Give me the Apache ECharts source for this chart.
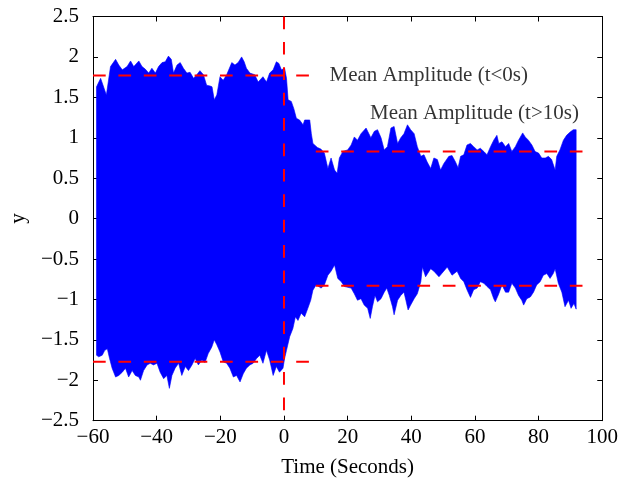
<!DOCTYPE html>
<html>
<head>
<meta charset="utf-8">
<script src="https://cdn.jsdelivr.net/npm/echarts@6/dist/echarts.min.js"></script>
<style>html,body{margin:0;padding:0;background:#fff}#c{width:621px;height:486px}</style>
</head>
<body>
<div id="c"></div>
<script>
// Upper envelope of the oscillating signal (time, value)
const upperT = [-58.9,-57.6,-55.8,-54.5,-52.9,-51.9,-50.8,-49.3,-48.2,-47.2,-45.6,-44.6,-43.6,-42.5,-41.5,-40.4,-39.4,-38.3,-37.3,-36.3,-35.4,-34.7,-33.6,-32.6,-31.6,-30.5,-29.5,-28.4,-27.4,-26.4,-25.3,-24.3,-23.2,-22.6,-21.9,-21.1,-20.1,-19.1,-18.0,-16.4,-15.4,-14.4,-13.3,-12.5,-11.8,-10.7,-9.2,-8.1,-6.6,-5.5,-4.5,-3.4,-2.4,-1.6,-0.8,0.2,0.8,1.3,2.3,3.1,3.9,4.9,6.0,6.5,8.1,8.6,9.1,10.5,11.6,12.7,13.8,14.8,15.9,16.7,17.4,18.5,20.0,21.1,22.1,23.1,24.2,25.8,26.3,27.3,28.4,29.4,30.5,31.5,32.5,33.6,34.6,35.7,36.7,37.7,38.8,39.8,40.9,41.9,43.0,44.0,45.0,46.1,47.1,48.2,49.2,50.2,51.8,52.8,53.9,54.7,55.5,56.5,57.5,58.6,59.6,60.7,61.7,62.8,63.8,64.9,65.9,66.9,67.5,68.5,69.6,70.6,71.6,72.7,73.7,75.0,75.8,76.8,77.9,78.9,80.0,81.0,82.1,83.1,84.1,85.2,85.7,86.7,87.8,88.8,89.9,90.9,91.8];
const upperY = [1.63,1.735,1.53,1.88,1.97,1.90,1.84,1.88,1.95,1.88,1.95,1.88,1.85,1.80,1.86,1.80,1.88,1.93,1.94,2.01,1.97,1.80,1.90,1.93,1.86,1.80,1.81,1.735,1.78,1.83,1.78,1.65,1.64,1.63,1.47,1.53,1.755,1.71,1.78,1.93,1.90,1.93,2.00,1.94,1.86,1.80,1.78,1.69,1.755,1.69,1.80,1.84,1.94,1.92,1.84,1.86,1.735,1.47,1.45,1.36,1.24,1.22,1.16,1.22,1.22,1.05,0.93,0.88,0.86,0.81,0.62,0.75,0.60,0.56,0.75,0.83,0.85,0.91,1.01,0.97,1.05,1.12,1.08,1.00,1.08,1.10,1.00,0.85,0.89,1.12,1.14,0.93,1.00,1.05,1.16,1.10,1.05,0.89,0.77,0.79,0.70,0.62,0.75,0.73,0.60,0.68,0.77,0.78,0.70,0.63,0.77,0.79,0.91,0.93,0.89,0.85,0.87,0.83,0.79,0.89,0.97,1.03,0.93,0.95,0.89,0.93,0.83,0.89,0.97,1.06,1.01,0.97,0.91,0.83,0.81,0.75,0.75,0.77,0.73,0.60,0.77,0.85,0.97,1.03,1.07,1.10,1.10];
// Lower envelope of the oscillating signal (time, value)
const lowerT = [-58.9,-58.2,-57.1,-56.3,-55.5,-54.8,-54.0,-52.9,-51.9,-50.8,-49.8,-48.8,-47.7,-46.7,-45.6,-45.1,-44.1,-43.0,-42.0,-41.0,-39.9,-38.9,-37.8,-36.8,-36.0,-35.2,-34.2,-33.1,-32.1,-31.0,-30.0,-28.9,-27.9,-26.9,-25.8,-24.8,-23.8,-22.7,-21.9,-21.1,-20.1,-19.1,-18.0,-17.0,-15.9,-14.9,-13.8,-12.8,-11.8,-10.7,-9.7,-8.6,-7.6,-6.6,-5.5,-4.5,-3.4,-2.4,-1.4,-0.3,0.2,0.8,1.8,2.8,3.6,4.4,5.4,6.5,7.5,8.4,9.1,10.1,11.7,12.7,13.8,14.8,15.9,16.9,18.0,19.0,21.1,22.1,23.1,24.2,25.2,26.3,27.1,27.8,28.6,29.4,30.5,31.5,32.3,33.1,34.1,34.6,35.7,36.7,37.7,38.3,39.0,39.8,40.9,41.9,43.0,43.5,44.5,46.1,47.1,48.7,50.2,51.3,52.8,54.4,55.5,56.5,57.5,58.6,59.6,60.7,61.7,62.8,63.8,64.9,65.9,66.4,67.5,68.5,69.6,70.6,71.6,72.7,73.7,74.7,75.3,76.3,77.4,78.4,79.4,80.5,81.5,82.6,83.6,84.6,85.2,86.2,87.3,88.3,89.4,90.2,91.1,91.8];
const lowerY = [-1.69,-1.71,-1.69,-1.63,-1.61,-1.73,-1.85,-1.96,-1.94,-1.90,-1.85,-1.96,-1.88,-1.94,-1.96,-2.00,-1.88,-1.81,-1.79,-1.81,-1.79,-1.90,-1.98,-1.94,-2.10,-1.94,-1.85,-1.79,-1.94,-1.83,-1.88,-1.81,-1.73,-1.81,-1.75,-1.78,-1.67,-1.59,-1.50,-1.56,-1.65,-1.77,-1.79,-1.85,-1.96,-1.94,-2.02,-1.92,-1.85,-1.81,-1.79,-1.73,-1.69,-1.79,-1.63,-1.75,-1.94,-1.83,-1.90,-1.85,-1.73,-1.63,-1.46,-1.36,-1.215,-1.26,-1.17,-1.215,-1.11,-1.01,-0.885,-0.82,-0.86,-0.82,-0.70,-0.65,-0.575,-0.74,-0.78,-0.84,-0.86,-0.93,-1.01,-0.99,-1.07,-1.11,-1.235,-1.09,-0.95,-1.03,-0.99,-0.91,-0.86,-0.95,-1.09,-1.19,-1.01,-0.95,-0.91,-1.01,-1.13,-1.07,-0.99,-0.93,-0.78,-0.60,-0.72,-0.62,-0.65,-0.72,-0.65,-0.60,-0.70,-0.65,-0.74,-0.78,-0.88,-0.975,-0.88,-0.86,-0.78,-0.80,-0.84,-0.88,-0.99,-1.03,-0.93,-0.82,-0.91,-0.91,-0.80,-0.86,-0.95,-1.01,-1.07,-0.99,-0.97,-0.91,-0.82,-0.78,-0.70,-0.68,-0.74,-0.68,-0.62,-0.80,-0.91,-1.09,-1.01,-1.11,-1.05,-1.12];

// Mean amplitude reference lines
const meanBefore = 1.77;
const meanAfter = 0.83;
const meanBeforeRange = [-60, 10];
const meanAfterRange = [10, 95];
const eventTime = 0;

// Axes
const xRange = [-60, 100], xStep = 20;
const yRange = [-2.5, 2.5], yStep = 0.5;

// Annotations
const labelBefore = 'Mean Amplitude (t<0s)';
const labelAfter = 'Mean Amplitude (t>10s)';
const labelBeforePos = [14.3, 1.77];
const labelAfterPos = [27.0, 1.30];

const FONT = 'Liberation Serif';
const fmt = v => String(v).replace('-', '\u2212');
const red = '#ff0000';
const dash = [12.7, 12.7];

const chart = echarts.init(document.getElementById('c'), null, {renderer: 'canvas'});

const axisCommon = {
  type: 'value',
  axisLine: {show: true, onZero: false, lineStyle: {color: '#000', width: 1}},
  axisTick: {show: true, inside: true, length: 5, lineStyle: {color: '#000', width: 1}},
  splitLine: {show: false}
};

function redLine(pts) {
  return {
    type: 'line', data: pts, symbol: 'none', silent: true, z: 5,
    lineStyle: {color: red, width: 2, type: dash}, animation: false
  };
}

chart.setOption({
  backgroundColor: '#fff',
  animation: false,
  grid: {left: 92.4, right: 17, top: 16.5, bottom: 65.3, containLabel: false},
  xAxis: [
    Object.assign({}, axisCommon, {
      position: 'bottom', min: xRange[0], max: xRange[1], interval: xStep,
      name: 'Time (Seconds)', nameLocation: 'middle', nameGap: 36,
      nameTextStyle: {fontFamily: FONT, fontSize: 21, color: '#000'},
      axisLabel: {fontFamily: FONT, fontSize: 21, color: '#000', margin: 6, formatter: fmt, showMinLabel: true, showMaxLabel: true}
    }),
    Object.assign({}, axisCommon, {
      position: 'top', min: xRange[0], max: xRange[1], interval: xStep,
      axisLabel: {show: false}
    })
  ],
  yAxis: [
    Object.assign({}, axisCommon, {
      position: 'left', min: yRange[0], max: yRange[1], interval: yStep,
      name: 'y', nameLocation: 'middle', nameGap: 64, nameRotate: 90,
      nameTextStyle: {fontFamily: FONT, fontSize: 21, color: '#000'},
      axisLabel: {fontFamily: FONT, fontSize: 21, color: '#000', margin: 14, formatter: fmt, showMinLabel: true, showMaxLabel: true}
    }),
    Object.assign({}, axisCommon, {
      position: 'right', min: yRange[0], max: yRange[1], interval: yStep,
      axisLabel: {show: false}
    })
  ],
  series: [
    {
      type: 'custom', z: 2, silent: true,
      data: [[upperT[0], upperY[0]]],
      renderItem: function (params, api) {
        const pts = [];
        for (let i = 0; i < upperT.length; i++) pts.push(api.coord([upperT[i], upperY[i]]));
        for (let i = lowerT.length - 1; i >= 0; i--) pts.push(api.coord([lowerT[i], lowerY[i]]));
        return {type: 'polygon', shape: {points: pts}, style: {fill: '#0000ff', stroke: '#0000ff', lineWidth: 0.6}};
      }
    },
    redLine([[meanBeforeRange[0], meanBefore], [meanBeforeRange[1], meanBefore]]),
    redLine([[meanBeforeRange[0], -meanBefore], [meanBeforeRange[1], -meanBefore]]),
    redLine([[meanAfterRange[0], meanAfter], [meanAfterRange[1], meanAfter]]),
    redLine([[meanAfterRange[0], -meanAfter], [meanAfterRange[1], -meanAfter]]),
    redLine([[eventTime, yRange[1]], [eventTime, yRange[0]]]),
    {
      type: 'scatter', symbolSize: 0.1, silent: true, z: 6,
      itemStyle: {color: 'rgba(0,0,0,0)'},
      data: [
        {value: labelBeforePos, label: {formatter: labelBefore}},
        {value: labelAfterPos, label: {formatter: labelAfter}}
      ],
      label: {show: true, position: 'right', distance: 0, fontFamily: FONT, fontSize: 21, color: '#000'}
    }
  ]
});
</script>
</body>
</html>
